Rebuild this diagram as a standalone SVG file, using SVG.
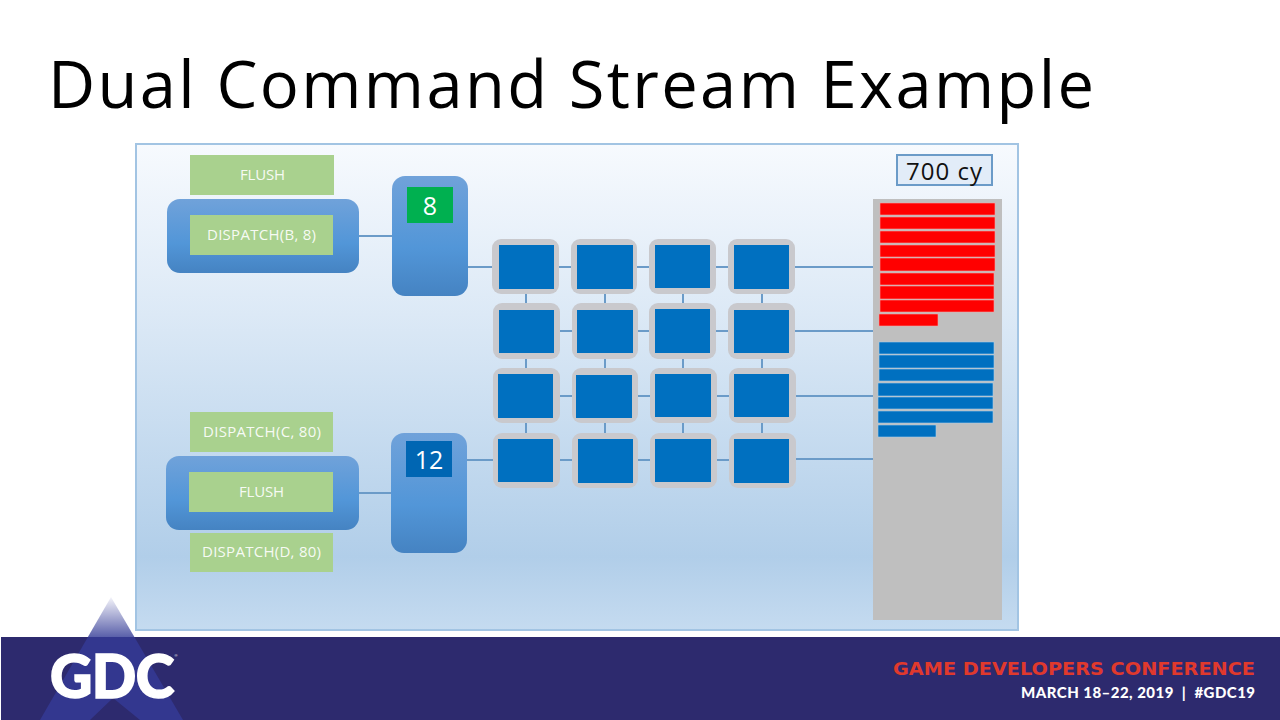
<svg xmlns="http://www.w3.org/2000/svg" width="1280" height="720" viewBox="0 0 1280 720">
<style>
.lbl{font-family:"Open Sans","DejaVu Sans",sans-serif;font-size:15px;fill:#fff;fill-opacity:.92;text-anchor:middle}
.g{fill:#a9d18e}
.blk{fill:url(#nodeGrad)}
.frame{fill:#c9c9cd}
.core{fill:#0070c0}
.red{fill:#f00;stroke:#f2a6a6;stroke-width:.6}
.bar{fill:#0070c0;stroke:#a9cde8;stroke-width:.6}
.num{font-family:"Open Sans","DejaVu Sans",sans-serif;font-size:25px;fill:#fff;text-anchor:middle}
#connectors line{stroke:#6b9bc8;stroke-width:2}
</style>
<defs>
<linearGradient id="panelGrad" x1="0" y1="0" x2="0" y2="1"><stop offset="0" stop-color="#f7fafe"/><stop offset=".35" stop-color="#dce9f6"/><stop offset=".85" stop-color="#b1cee9"/><stop offset="1" stop-color="#c5dbf0"/></linearGradient>
<linearGradient id="nodeGrad" x1="0" y1="0" x2="0" y2="1"><stop offset="0" stop-color="#70a2da"/><stop offset=".6" stop-color="#5296d8"/><stop offset="1" stop-color="#4583c2"/></linearGradient>
<linearGradient id="triGrad" gradientUnits="userSpaceOnUse" x1="0" y1="597" x2="0" y2="637"><stop offset="0" stop-color="#f4f4fa"/><stop offset="1" stop-color="#5a60aa"/></linearGradient>
</defs>
<rect width="1280" height="720" fill="#fff"/>
<text id="title" x="48" y="108" font-family="'Open Sans','DejaVu Sans',sans-serif" font-size="65" fill="#000" textLength="1046" lengthAdjust="spacing">Dual Command Stream Example</text>
<rect id="panel" x="136" y="144" width="882" height="486" fill="url(#panelGrad)" stroke="#a2c4e3" stroke-width="2"/>
<g id="connectors">
<line x1="359" y1="236" x2="392" y2="236"/><line x1="359" y1="493" x2="391" y2="493"/>
<line x1="467" y1="267" x2="492" y2="267"/><line x1="559" y1="267" x2="571" y2="267"/><line x1="637" y1="267" x2="649" y2="267"/><line x1="716" y1="267" x2="728" y2="267"/><line x1="795" y1="267" x2="873" y2="267"/>
<line x1="560" y1="331" x2="572" y2="331"/><line x1="638" y1="331" x2="649" y2="331"/><line x1="716" y1="331" x2="728" y2="331"/><line x1="795" y1="331" x2="873" y2="331"/>
<line x1="560" y1="396" x2="572" y2="396"/><line x1="638" y1="396" x2="650" y2="396"/><line x1="717" y1="396" x2="729" y2="396"/><line x1="796" y1="396" x2="873" y2="396"/>
<line x1="467" y1="460" x2="493" y2="460"/><line x1="560" y1="460" x2="572" y2="460"/><line x1="638" y1="460" x2="650" y2="460"/><line x1="717" y1="460" x2="729" y2="460"/><line x1="796" y1="459" x2="873" y2="459"/>
<line x1="526" y1="294" x2="526" y2="303"/><line x1="605" y1="294" x2="605" y2="303"/><line x1="683" y1="294" x2="683" y2="303"/><line x1="762" y1="294" x2="762" y2="303"/>
<line x1="526" y1="359" x2="526" y2="368"/><line x1="605" y1="359" x2="605" y2="368"/><line x1="683" y1="359" x2="683" y2="368"/><line x1="762" y1="359" x2="762" y2="368"/>
<line x1="526" y1="423" x2="526" y2="433"/><line x1="605" y1="423" x2="605" y2="433"/><line x1="683" y1="423" x2="683" y2="433"/><line x1="762" y1="423" x2="762" y2="433"/>
</g>
<g id="stream-a"><rect class="blk" x="167" y="199" width="192" height="74" rx="13"/></g>
<g id="flush-a"><rect class="g" x="190" y="155" width="144" height="40"/><text class="lbl" x="262.500" y="180" textLength="45" lengthAdjust="spacing">FLUSH</text></g>
<g id="dispatch-b"><rect class="g" x="190" y="215" width="143" height="40"/><text class="lbl" x="261.500" y="240" textLength="109" lengthAdjust="spacing">DISPATCH(B, 8)</text></g>
<g id="queue-a"><rect class="blk" x="392" y="176" width="76" height="120" rx="13"/><rect x="407" y="187" width="46" height="36" fill="#00b050"/><text class="num" x="430" y="215">8</text></g>
<g id="dispatch-c"><rect class="g" x="190" y="412" width="143" height="40"/><text class="lbl" x="262" y="437" textLength="118" lengthAdjust="spacing">DISPATCH(C, 80)</text></g>
<g id="stream-b"><rect class="blk" x="166" y="456" width="193" height="74" rx="13"/></g>
<g id="flush-b"><rect class="g" x="189" y="472" width="144" height="40"/><text class="lbl" x="261.500" y="497" textLength="45" lengthAdjust="spacing">FLUSH</text></g>
<g id="dispatch-d"><rect class="g" x="190" y="533" width="143" height="39"/><text class="lbl" x="261.500" y="557" textLength="119" lengthAdjust="spacing">DISPATCH(D, 80)</text></g>
<g id="queue-b"><rect class="blk" x="391" y="433" width="76" height="120" rx="13"/><rect x="406" y="441" width="46" height="36" fill="#0066b3"/><text class="num" x="429" y="469">12</text></g>
<g id="cu-1-1"><rect class="frame" x="492" y="239" width="67" height="55" rx="9"/><rect class="core" x="499" y="245" width="55" height="44"/></g>
<g id="cu-1-2"><rect class="frame" x="571" y="239" width="66" height="55" rx="9"/><rect class="core" x="577" y="245" width="56" height="44"/></g>
<g id="cu-1-3"><rect class="frame" x="649" y="239" width="67" height="55" rx="9"/><rect class="core" x="655" y="245" width="55" height="43"/></g>
<g id="cu-1-4"><rect class="frame" x="728" y="239" width="67" height="55" rx="9"/><rect class="core" x="734" y="245" width="55" height="44"/></g>
<g id="cu-2-1"><rect class="frame" x="493" y="303" width="67" height="56" rx="9"/><rect class="core" x="499" y="310" width="55" height="43"/></g>
<g id="cu-2-2"><rect class="frame" x="572" y="303" width="66" height="56" rx="9"/><rect class="core" x="577" y="310" width="56" height="43"/></g>
<g id="cu-2-3"><rect class="frame" x="649" y="303" width="67" height="56" rx="9"/><rect class="core" x="655" y="309" width="55" height="44"/></g>
<g id="cu-2-4"><rect class="frame" x="728" y="303" width="67" height="56" rx="9"/><rect class="core" x="734" y="310" width="55" height="43"/></g>
<g id="cu-3-1"><rect class="frame" x="493" y="368" width="67" height="55" rx="9"/><rect class="core" x="498" y="374" width="55" height="44"/></g>
<g id="cu-3-2"><rect class="frame" x="572" y="368" width="66" height="55" rx="9"/><rect class="core" x="576" y="375" width="56" height="43"/></g>
<g id="cu-3-3"><rect class="frame" x="650" y="368" width="67" height="55" rx="9"/><rect class="core" x="655" y="374" width="56" height="43"/></g>
<g id="cu-3-4"><rect class="frame" x="729" y="368" width="67" height="55" rx="9"/><rect class="core" x="734" y="374" width="55" height="43"/></g>
<g id="cu-4-1"><rect class="frame" x="493" y="433" width="67" height="55" rx="9"/><rect class="core" x="498" y="439" width="55" height="43"/></g>
<g id="cu-4-2"><rect class="frame" x="572" y="433" width="66" height="55" rx="9"/><rect class="core" x="578" y="439" width="55" height="44"/></g>
<g id="cu-4-3"><rect class="frame" x="650" y="433" width="67" height="55" rx="9"/><rect class="core" x="655" y="439" width="56" height="43"/></g>
<g id="cu-4-4"><rect class="frame" x="729" y="433" width="67" height="55" rx="9"/><rect class="core" x="734" y="439" width="55" height="44"/></g>
<g id="cycles"><rect x="897" y="155" width="95" height="30" fill="#e2ecf8" stroke="#6b9bc8" stroke-width="2"/><text x="944" y="180" font-family="'Open Sans','DejaVu Sans',sans-serif" font-size="24" fill="#111" text-anchor="middle" textLength="76" lengthAdjust="spacing">700 cy</text></g>
<g id="timeline"><rect x="873" y="199" width="129" height="421" fill="#bfbfbf"/>
<rect class="red" x="880" y="203" width="115" height="12"/><rect class="red" x="880" y="217" width="115" height="12"/><rect class="red" x="880" y="231" width="115" height="12"/><rect class="red" x="880" y="245" width="115" height="12"/><rect class="red" x="880" y="258" width="115" height="13"/><rect class="red" x="880" y="273" width="114" height="12"/><rect class="red" x="880" y="286" width="114" height="13"/><rect class="red" x="880" y="300" width="114" height="12"/><rect class="red" x="879" y="314" width="59" height="12"/>
<rect class="bar" x="879" y="342" width="115" height="12"/><rect class="bar" x="879" y="355" width="115" height="13"/><rect class="bar" x="879" y="369" width="115" height="12"/><rect class="bar" x="878" y="383" width="115" height="13"/><rect class="bar" x="878" y="397" width="115" height="12"/><rect class="bar" x="878" y="411" width="115" height="12"/><rect class="bar" x="878" y="425" width="58" height="12"/></g>
<g id="footer">
<rect x="1" y="637" width="1279" height="83" fill="#2d2a6e"/>
<polygon points="111,597 134.400,637 87.900,637" fill="url(#triGrad)"/>
<polygon points="87.900,637 134.400,637 183,720 40,720" fill="#33378f"/>
<polygon points="113,698 140,720 90,720" fill="#2d2a6e"/>
<text transform="translate(50 698) scale(1.170 1.200)" font-family="Lato,'Liberation Sans',sans-serif" font-weight="900" font-size="50" fill="#fff" stroke="#fff" stroke-width="1.300" letter-spacing="-.5">GDC</text>
<text x="174.500" y="657" font-family="'Liberation Sans',sans-serif" font-size="4" fill="#fff">®</text>
<text x="893" y="675" font-family="'DejaVu Sans',sans-serif" font-weight="700" font-size="17" fill="#e0392d" textLength="362" lengthAdjust="spacingAndGlyphs">GAME DEVELOPERS CONFERENCE</text>
<text x="1021" y="698" font-family="Lato,'Liberation Sans',sans-serif" font-weight="900" font-size="15" fill="#fff" textLength="234" lengthAdjust="spacing">MARCH 18–22, 2019 &#160;|&#160; #GDC19</text>
</g>
</svg>
